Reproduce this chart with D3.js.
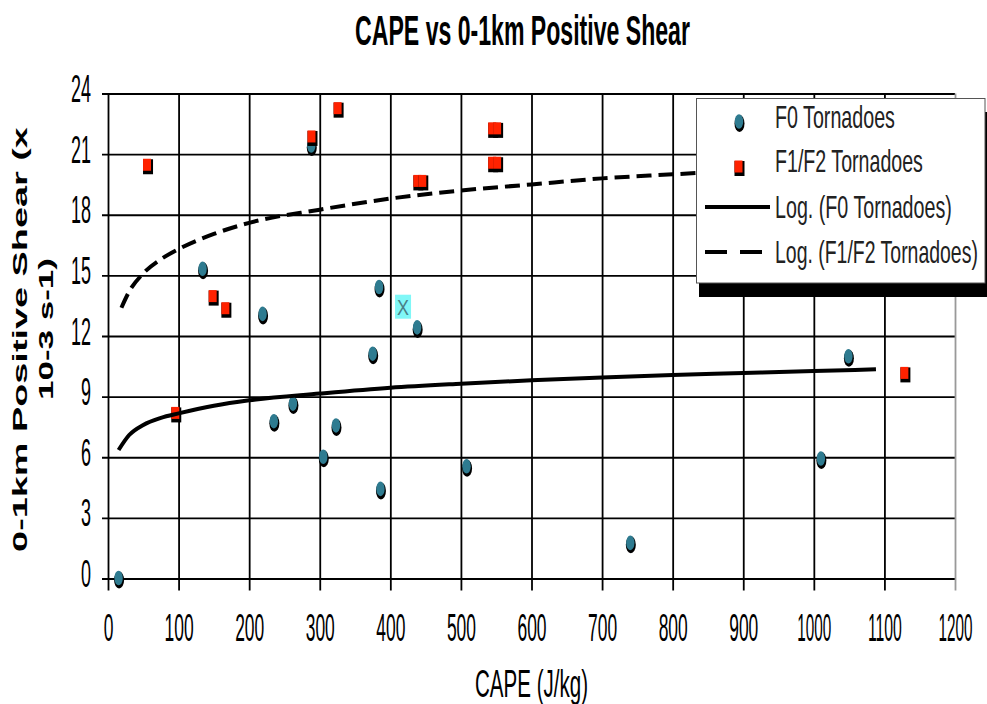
<!DOCTYPE html>
<html><head><meta charset="utf-8">
<script src="https://cdn.jsdelivr.net/npm/d3@7"></script>
<style>html,body{margin:0;padding:0;background:#fff;} svg{display:block;font-family:"Liberation Sans",Arial,sans-serif;}</style>
</head><body>
<svg id="chart" width="987" height="704"></svg>
<script>
// ---- data ----
const xTicks = [0,100,200,300,400,500,600,700,800,900,1000,1100,1200];
const yTicks = [0,3,6,9,12,15,18,21,24];

const f0Cape  = [15, 134, 219, 235, 262, 288, 305, 323, 375, 384, 386, 438, 508, 740, 1010, 1049];
const f0Shear = [0, 15.3, 13.07, 7.76, 8.63, 21.4, 6.0, 7.55, 11.1, 14.4, 4.41, 12.4, 5.53, 1.74, 5.91, 10.97];

const f12Cape  = [56, 96, 149, 167, 289, 326, 439, 446, 545, 552, 545, 552, 1129];
const f12Shear = [20.4, 8.12, 13.9, 13.3, 21.8, 23.2, 19.6, 19.6, 22.2, 22.2, 20.5, 20.5, 10.1];

const otherCape  = [418];
const otherShear = [13.45];

const f0TrendCape  = [15, 30, 50, 75, 100, 150, 200, 300, 400, 500, 600, 700, 800, 900, 1000, 1088];
const f0TrendShear = [6.36, 7.1, 7.6, 7.95, 8.17, 8.55, 8.82, 9.15, 9.44, 9.64, 9.81, 9.95, 10.07, 10.17, 10.27, 10.35];

const f12TrendCape  = [19, 30, 50, 75, 100, 150, 200, 300, 400, 500, 600, 700, 800, 900, 1000, 1129];
const f12TrendShear = [13.4, 14.2, 15.1, 15.8, 16.3, 17.05, 17.6, 18.25, 18.8, 19.2, 19.5, 19.8, 20.0, 20.2, 20.4, 20.6];

const chartTitle = "CAPE vs 0-1km Positive Shear";
const xTitle = "CAPE (J/kg)";
const yTitle1 = "0-1km Positive Shear (x";
const yTitle2 = "10-3 s-1)";
const legendLabels = ["F0 Tornadoes", "F1/F2 Tornadoes", "Log. (F0 Tornadoes)", "Log. (F1/F2 Tornadoes)"];

// ---- drawing ----
const svg = d3.select("#chart");
const x = d3.scaleLinear().domain([0, 1200]).range([108, 955]);
const y = d3.scaleLinear().domain([0, 24]).range([578.5, 93.5]);
const teal = "#2e7b90", red = "#ff2200";
const fmt = d3.format("d");

// scale a text horizontally so its drawn width equals w; placed at (px,py), optional rotation
function squeeze(sel, px, py, w, rot) {
  sel.each(function() {
    const t = d3.select(this).attr("x", 0).attr("y", 0).attr("dy", null);
    const n = this.getComputedTextLength();
    const wv = typeof w === "function" ? w(t.datum()) : w;
    t.attr("transform", `translate(${px},${py})${rot ? ` rotate(${rot})` : ""} scale(${wv / n},1)`);
  });
}

svg.append("rect").attr("width", 987).attr("height", 704).attr("fill", "#fff");

// title
svg.append("text").attr("text-anchor", "middle")
  .attr("font-size", 42).attr("font-weight", "bold").attr("fill", "#000").text(chartTitle)
  .call(s => squeeze(s, 522.5, 45, 335));

// horizontal gridlines + y axis
const yAxis = d3.axisLeft(y).tickValues(yTicks).tickFormat(fmt)
  .tickSizeInner(-(x(1200) - x(0))).tickSizeOuter(0).tickPadding(0);
const gy = svg.append("g").attr("transform", `translate(${x(0)},0)`).call(yAxis);
gy.select(".domain").remove();
gy.selectAll(".tick line").attr("x1", -6).attr("stroke", "#000").attr("stroke-width", 1.8);
gy.selectAll(".tick text")
  .attr("font-size", 38).attr("font-family", "Liberation Sans, Arial, sans-serif").attr("fill", "#000")
  .call(s => squeeze(s, -17, 8, d => fmt(d).length * 10));

// vertical gridlines + x axis
const xAxis = d3.axisBottom(x).tickValues(xTicks).tickFormat(fmt).tickSizeOuter(0).tickPadding(0);
const gx = svg.append("g").attr("transform", `translate(0,${y(0)})`).call(xAxis);
gx.select(".domain").remove();
gx.selectAll(".tick line").attr("y1", 12).attr("y2", -(y(0) - y(24)))
  .attr("stroke", d => d === 1200 ? "#999" : "#000").attr("stroke-width", 1.8);
gx.selectAll(".tick text")
  .attr("font-size", 39).attr("font-family", "Liberation Sans, Arial, sans-serif").attr("fill", "#000")
  .call(s => squeeze(s, 0, 62.5, d => fmt(d).length === 4 ? 34 : fmt(d).length * 9.7));

// axis titles
svg.append("text").attr("text-anchor", "middle").attr("font-size", 38).attr("fill", "#000").text(xTitle)
  .call(s => squeeze(s, 531.5, 697, 113));
svg.append("text").attr("text-anchor", "middle").attr("font-size", 21).attr("font-weight", "bold")
  .attr("fill", "#000").text(yTitle1)
  .call(s => squeeze(s, 27, 339.5, 425, -90));
svg.append("text").attr("text-anchor", "middle").attr("font-size", 21).attr("font-weight", "bold")
  .attr("fill", "#000").text(yTitle2)
  .call(s => squeeze(s, 53, 329, 142, -90));

// markers
function drawF0(g, cx, cy) {
  g.append("ellipse").attr("cx", cx + 0.5).attr("cy", cy + 1.5).attr("rx", 5).attr("ry", 8.5).attr("fill", "#000");
  g.append("ellipse").attr("cx", cx).attr("cy", cy - 0.5).attr("rx", 4.2).attr("ry", 7.3).attr("fill", teal);
}
function drawF12(g, cx, cy) {
  g.append("rect").attr("x", cx - 4.5).attr("y", cy - 7).attr("width", 10).attr("height", 15).attr("fill", "#000");
  g.append("rect").attr("x", cx - 4.5).attr("y", cy - 7.5).attr("width", 8).attr("height", 12).attr("fill", red);
}
const gm = svg.append("g");
f0Cape.forEach((c, i) => drawF0(gm, x(c), y(f0Shear[i])));
f12Cape.forEach((c, i) => drawF12(gm, x(c), y(f12Shear[i])));
otherCape.forEach((c, i) => {
  const cx = x(c), cy = y(otherShear[i]);
  gm.append("rect").attr("x", cx - 8).attr("y", cy - 12).attr("width", 16).attr("height", 24).attr("fill", "#80f7f7");
  gm.append("text").attr("text-anchor", "middle").attr("font-size", 22).attr("fill", "#4a7f86").text("X")
    .call(s => squeeze(s, cx, cy + 8, 12));
});

// trendlines
const line = d3.line().x(d => x(d[0])).y(d => y(d[1])).curve(d3.curveMonotoneX);
svg.append("path").datum(f0TrendCape.map((c, i) => [c, f0TrendShear[i]]))
  .attr("d", line).attr("fill", "none").attr("stroke", "#000").attr("stroke-width", 4);
svg.append("path").datum(f12TrendCape.map((c, i) => [c, f12TrendShear[i]]))
  .attr("d", line).attr("fill", "none").attr("stroke", "#000").attr("stroke-width", 4)
  .attr("stroke-dasharray", "15,7");

// legend
const lg = svg.append("g");
lg.append("rect").attr("x", 699).attr("y", 112).attr("width", 288).attr("height", 185).attr("fill", "#000");
lg.append("rect").attr("x", 696.5).attr("y", 98.5).attr("width", 288.5).attr("height", 184.5)
  .attr("fill", "#fff").attr("stroke", "#555").attr("stroke-width", 1);
const rowsY = [128, 172, 218, 263];
drawF0(lg, 739, 122);
drawF12(lg, 739, 168);
lg.append("line").attr("x1", 705).attr("x2", 770).attr("y1", 207).attr("y2", 207).attr("stroke", "#000").attr("stroke-width", 4);
lg.append("line").attr("x1", 705).attr("x2", 770).attr("y1", 252).attr("y2", 252).attr("stroke", "#000").attr("stroke-width", 4)
  .attr("stroke-dasharray", "22,13");
const lw = [120, 148, 177, 203];
legendLabels.forEach((t, i) => {
  lg.append("text").attr("font-size", 32).attr("fill", "#222").text(t)
    .call(s => squeeze(s, 775, rowsY[i], lw[i]));
});
</script>
</body></html>
